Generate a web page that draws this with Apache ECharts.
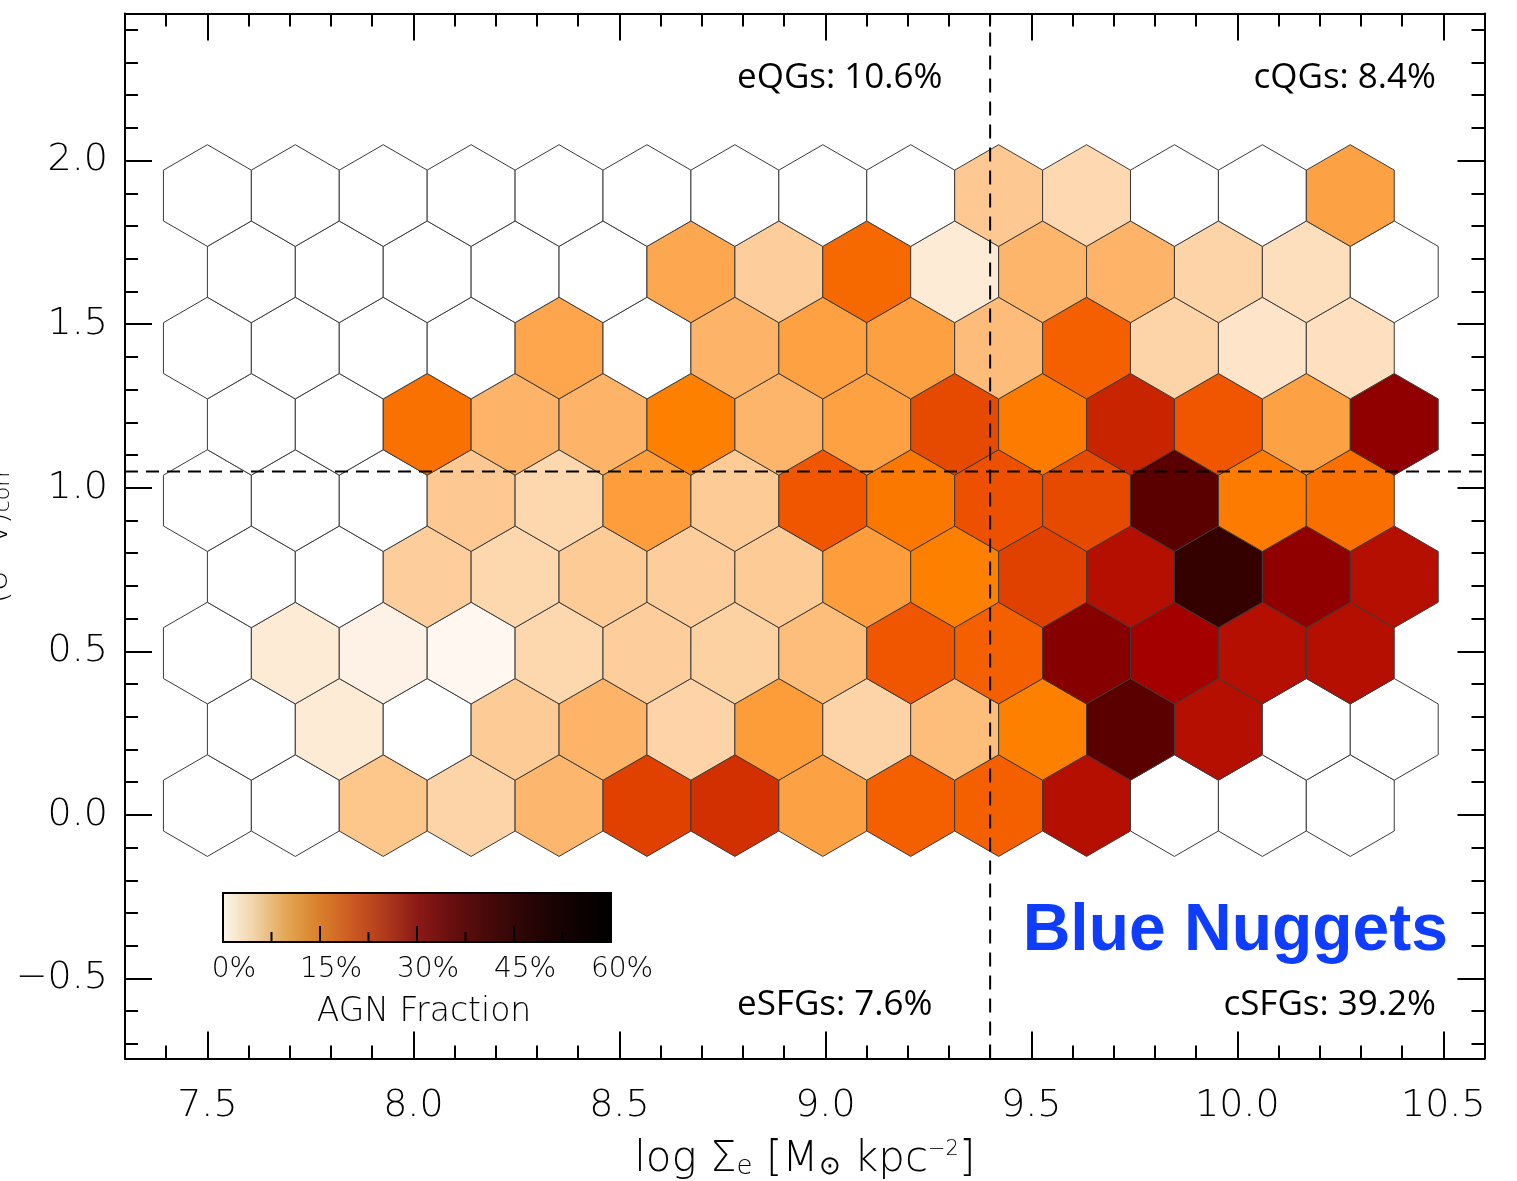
<!DOCTYPE html>
<html>
<head>
<meta charset="utf-8">
<script src="https://cdn.jsdelivr.net/npm/echarts@6/dist/echarts.min.js"></script>
<style>
html,body{margin:0;padding:0;background:#fff;}
#chart{width:1517px;height:1181px;}
</style>
</head>
<body>
<div id="chart"></div>
<script>
// ---------------- DATA ----------------
// AGN fraction (%) per hexagonal bin, rows from bottom (row0) to top (row8),
// 14 bins per row, left to right. Odd rows are shifted half a bin to the right.
const row0 = [0, 0, 6.8, 5.1, 8.6, 22.4, 24.4, 11.0, 18.7, 18.7, 28.2, 0, 0, 0];
const row1 = [0, 2.4, 0, 6.2, 8.8, 5.2, 11.6, 5.1, 7.7, 15.0, 43.7, 28.2, 0, 0];
const row2 = [0, 2.4, 1.5, 0.9, 4.7, 5.9, 5.4, 7.7, 20.0, 18.7, 35.6, 30.2, 28.2, 28.2];
const row3 = [0, 0, 5.9, 4.7, 6.2, 5.8, 6.2, 11.5, 15.0, 22.4, 28.2, 50.4, 34.0, 28.3];
const row4 = [0, 0, 0, 6.5, 4.7, 11.5, 6.2, 20.0, 15.9, 20.5, 21.4, 43.7, 15.6, 16.9];
const row5 = [0, 0, 16.8, 8.8, 8.8, 15.0, 8.7, 11.1, 21.4, 15.5, 25.8, 20.0, 11.0, 34.0];
const row6 = [0, 0, 0, 0, 10.5, 0, 8.8, 11.1, 11.2, 7.9, 18.7, 5.1, 3.2, 3.7];
const row7 = [0, 0, 0, 0, 0, 10.3, 5.9, 17.8, 2.4, 8.7, 8.8, 5.1, 3.8, 0];
const row8 = [0, 0, 0, 0, 0, 0, 0, 0, 0, 6.5, 4.6, 0, 0, 11.0];

// Hex-bin grid (data units)
const binX0 = 7.5, binDX = 0.2134, binY0 = 0.0284, binDY = 0.2331;

// Region dividers
const xDivide = 9.4;
const yDivide = 1.05;

// Region fractions
const regionLabels = ['eQGs: 10.6%', 'cQGs: 8.4%', 'eSFGs: 7.6%', 'cSFGs: 39.2%'];

// Axis ticks
const xRange = [7.3, 10.6];
const yRange = [-0.745, 2.45];
const xMajor = [7.5, 8.0, 8.5, 9.0, 9.5, 10.0, 10.5];
const xMinor = [7.3, 7.4, 7.5, 7.6, 7.7, 7.8, 7.9, 8.0, 8.1, 8.2, 8.3, 8.4, 8.5, 8.6, 8.7, 8.8, 8.9, 9.0,
                9.1, 9.2, 9.3, 9.4, 9.5, 9.6, 9.7, 9.8, 9.9, 10.0, 10.1, 10.2, 10.3, 10.4, 10.5];
const yMajor = [-0.5, 0.0, 0.5, 1.0, 1.5, 2.0];
const yMinor = [-0.7, -0.6, -0.5, -0.4, -0.3, -0.2, -0.1, 0.0, 0.1, 0.2, 0.3, 0.4, 0.5, 0.6, 0.7, 0.8, 0.9,
                1.0, 1.1, 1.2, 1.3, 1.4, 1.5, 1.6, 1.7, 1.8, 1.9, 2.0, 2.1, 2.2, 2.3, 2.4];

// Colour bar
const cbarTicks = [0, 15, 30, 45, 60];
const cbarMinorTicks = [7.5, 22.5, 37.5, 52.5];
// ---------------------------------------

const rows = [row0, row1, row2, row3, row4, row5, row6, row7, row8];
const hexData = [];
rows.forEach((vals, r) => {
  vals.forEach((v, k) => {
    hexData.push([binX0 + (k + (r % 2 ? 0.5 : 0)) * binDX, binY0 + r * binDY, v]);
  });
});

const hexColors = ['#ffffff', '#fdd5aa', '#fdaa55', '#fe8000', '#f05500', '#ce2b00', '#a60000',
                   '#8a0000', '#6e0000', '#530000', '#370000', '#1c0000', '#000000'];

const FONT = "'DejaVu Sans', sans-serif";
const fmt = v => (v < 0 ? '\u2212' + Math.abs(v).toFixed(1) : v.toFixed(1));

const gridRect = {left: 125, right: 32.5, top: 13.4, bottom: 122.4, containLabel: false, outerBoundsMode: 'none'};

function majorAxis(extra) {
  return Object.assign({
    type: 'value',
    splitLine: {show: false},
    axisLine: {show: true, onZero: false, lineStyle: {color: '#000', width: 2}},
    axisTick: {show: true, inside: true, length: 27, lineStyle: {color: '#000', width: 2}},
    axisLabel: {show: false}
  }, extra);
}
function minorAxis(extra) {
  return Object.assign({
    type: 'value',
    splitLine: {show: false},
    axisLine: {show: false, onZero: false},
    axisLabel: {show: false}
  }, extra);
}

const chart = echarts.init(document.getElementById('chart'), null, {renderer: 'canvas'});

const R = binDY / 1.5, HW = binDX / 2;

const cbX = 223, cbY = 893, cbW = 388, cbH = 49;
const graphics = [];
graphics.push({
  type: 'rect', z: 100,
  shape: {x: cbX, y: cbY, width: cbW, height: cbH},
  style: {
    fill: {type: 'linear', x: 0, y: 0, x2: 1, y2: 0, colorStops: [
      {offset: 0, color: '#fdf8ee'}, {offset: 0.083, color: '#f0d2a6'}, {offset: 0.167, color: '#e3a552'},
      {offset: 0.25, color: '#d97f2a'}, {offset: 0.333, color: '#cc5a22'}, {offset: 0.417, color: '#b03a1c'},
      {offset: 0.5, color: '#8c1a16'}, {offset: 0.583, color: '#6a0f10'}, {offset: 0.667, color: '#4c0a0a'},
      {offset: 0.75, color: '#330606'}, {offset: 0.833, color: '#1e0303'}, {offset: 0.917, color: '#0e0101'},
      {offset: 1, color: '#000000'}]},
    stroke: '#000', lineWidth: 2
  }
});
cbarTicks.slice(1, -1).forEach(t => {
  const x = cbX + cbW * t / 60;
  graphics.push({type: 'line', z: 101, shape: {x1: x, y1: cbY + cbH, x2: x, y2: cbY + cbH - 16},
    style: {stroke: '#000', lineWidth: 2}});
});
cbarMinorTicks.forEach(t => {
  const x = cbX + cbW * t / 60;
  graphics.push({type: 'line', z: 101, shape: {x1: x, y1: cbY + cbH, x2: x, y2: cbY + cbH - 10},
    style: {stroke: '#000', lineWidth: 2}});
});
cbarTicks.forEach(t => {
  graphics.push({type: 'text', z: 101, x: cbX + cbW * t / 60 + 11, y: 970,
    style: {text: t + '%', fontSize: 28, fontFamily: FONT, fontWeight: 200, fill: '#000',
      align: 'center', verticalAlign: 'middle', textAlign: 'center', textVerticalAlign: 'middle'}});
});
graphics.push({type: 'text', z: 101, x: 424, y: 1012,
  style: {text: 'AGN Fraction', fontSize: 33, fontFamily: FONT, fontWeight: 200, fill: '#000',
    align: 'center', verticalAlign: 'middle', textAlign: 'center', textVerticalAlign: 'middle'}});

// region labels
const regFont = "'Open Sans', 'Noto Sans', sans-serif";
[[737, 78, 'left', 0], [1436, 78, 'right', 1], [737, 1005, 'left', 2], [1436, 1005, 'right', 3]].forEach(p => {
  graphics.push({type: 'text', z: 101, x: p[0], y: p[1],
    style: {text: regionLabels[p[3]], fontSize: 35, fontFamily: regFont, fill: '#000',
      align: p[2], verticalAlign: 'middle', textAlign: p[2], textVerticalAlign: 'middle'}});
});
graphics.push({type: 'text', z: 101, x: 1448, y: 932,
  style: {text: 'Blue Nuggets', fontSize: 66, fontWeight: 'bold', fontFamily: "'Liberation Sans', Arial, sans-serif",
    fill: '#0f3dff', align: 'right', verticalAlign: 'middle', textAlign: 'right', textVerticalAlign: 'middle'}});

const option = {
  animation: false,
  backgroundColor: '#ffffff',
  grid: [Object.assign({}, gridRect), Object.assign({}, gridRect)],
  xAxis: [
    majorAxis({gridIndex: 0, position: 'bottom', min: xRange[0], max: xRange[1],
      axisTick: {show: true, inside: true, length: 27, lineStyle: {color: '#000', width: 2}, customValues: xMajor},
      axisLabel: {show: true, customValues: xMajor, formatter: fmt, margin: 29, fontSize: 38,
        fontFamily: FONT, fontWeight: 200, color: '#000'},
      name: '{n|log \u03A3}{sub|e}{n| [M}{sub|\u2299}{n| kpc}{sup|\u22122}{n|]}',
      nameLocation: 'middle', nameGap: 80, nameMoveOverlap: false,
      nameTextStyle: {color: '#000', fontFamily: FONT, fontWeight: 200, rich: {
        n: {fontSize: 42, lineHeight: 42, padding: [0, 0, 8, 0], verticalAlign: 'top', fontFamily: FONT, fontWeight: 200, color: '#000'},
        sub: {fontSize: 26, lineHeight: 26, verticalAlign: 'bottom', fontFamily: FONT, fontWeight: 200, color: '#000'},
        sup: {fontSize: 21, lineHeight: 21, verticalAlign: 'top', fontFamily: FONT, fontWeight: 200, color: '#000'}
      }}
    }),
    majorAxis({gridIndex: 0, position: 'top', min: xRange[0], max: xRange[1],
      axisTick: {show: true, inside: true, length: 27, lineStyle: {color: '#000', width: 2}, customValues: xMajor},
      axisLabel: {show: false, customValues: xMajor}}),
    minorAxis({gridIndex: 1, position: 'bottom', min: xRange[0], max: xRange[1],
      axisTick: {show: true, inside: true, length: 13, lineStyle: {color: '#000', width: 2}, customValues: xMinor},
      axisLabel: {show: false, customValues: xMinor}}),
    minorAxis({gridIndex: 1, position: 'top', min: xRange[0], max: xRange[1],
      axisTick: {show: true, inside: true, length: 13, lineStyle: {color: '#000', width: 2}, customValues: xMinor},
      axisLabel: {show: false, customValues: xMinor}})
  ],
  yAxis: [
    majorAxis({gridIndex: 0, position: 'left', min: yRange[0], max: yRange[1],
      axisTick: {show: true, inside: true, length: 27, lineStyle: {color: '#000', width: 2}, customValues: yMajor},
      axisLabel: {show: true, customValues: yMajor, formatter: fmt, margin: 17, fontSize: 38,
        fontFamily: FONT, fontWeight: 200, color: '#000'},
      name: '{m|(U\u2212V)}{s|corr}', nameLocation: 'middle', nameRotate: 90, nameGap: 111, nameMoveOverlap: false,
      nameTextStyle: {color: '#000', fontFamily: FONT, fontWeight: 200, rich: {
        m: {fontSize: 30, lineHeight: 30, padding: [0, 0, 12, 0], verticalAlign: 'top', fontFamily: FONT, fontWeight: 200, color: '#000'},
        s: {fontSize: 22, lineHeight: 22, verticalAlign: 'bottom', fontFamily: FONT, fontWeight: 200, color: '#000'}
      }}
    }),
    majorAxis({gridIndex: 0, position: 'right', min: yRange[0], max: yRange[1],
      axisTick: {show: true, inside: true, length: 27, lineStyle: {color: '#000', width: 2}, customValues: yMajor},
      axisLabel: {show: false, customValues: yMajor}}),
    minorAxis({gridIndex: 1, position: 'left', min: yRange[0], max: yRange[1],
      axisTick: {show: true, inside: true, length: 13, lineStyle: {color: '#000', width: 2}, customValues: yMinor},
      axisLabel: {show: false, customValues: yMinor}}),
    minorAxis({gridIndex: 1, position: 'right', min: yRange[0], max: yRange[1],
      axisTick: {show: true, inside: true, length: 13, lineStyle: {color: '#000', width: 2}, customValues: yMinor},
      axisLabel: {show: false, customValues: yMinor}})
  ],
  visualMap: {
    type: 'continuous', show: false, min: 0, max: 60, dimension: 2, seriesIndex: 0,
    inRange: {color: hexColors}
  },
  series: [
    {
      type: 'custom', xAxisIndex: 0, yAxisIndex: 0, clip: false, z: 2,
      data: hexData,
      renderItem: function (params, api) {
        const cx = api.value(0), cy = api.value(1);
        const pts = [[cx, cy + R], [cx + HW, cy + R / 2], [cx + HW, cy - R / 2],
                     [cx, cy - R], [cx - HW, cy - R / 2], [cx - HW, cy + R / 2]].map(p => api.coord(p));
        return {type: 'polygon', shape: {points: pts},
          style: {fill: api.visual('color'), stroke: '#3a3a3a', lineWidth: 1}};
      }
    },
    {
      type: 'line', xAxisIndex: 0, yAxisIndex: 0, z: 5, symbol: 'none', silent: true,
      data: [[xDivide, yRange[0]], [xDivide, yRange[1]]],
      lineStyle: {color: '#000', width: 2, type: [14, 9]}
    },
    {
      type: 'line', xAxisIndex: 0, yAxisIndex: 0, z: 5, symbol: 'none', silent: true,
      data: [[xRange[0], yDivide], [xRange[1], yDivide]],
      lineStyle: {color: '#000', width: 2, type: [13, 8]}
    }
  ],
  graphic: graphics
};
chart.setOption(option);
</script>
</body>
</html>
